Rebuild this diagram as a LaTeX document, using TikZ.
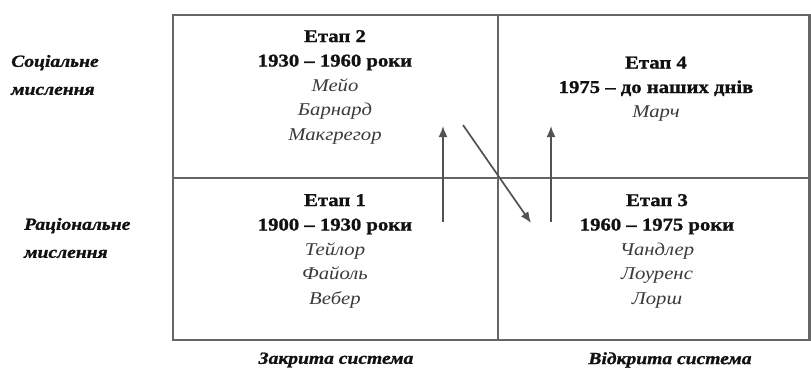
\documentclass[tikz,border=0pt]{standalone}
\usepackage{fontspec}
\setmainfont{Liberation Serif}[FakeStretch=1.15, BoldFeatures={FakeBold=1.2}, BoldItalicFeatures={FakeBold=1.2}]
\usetikzlibrary{arrows.meta}
\definecolor{linegray}{HTML}{666666}
\definecolor{namegray}{HTML}{3A3A3A}
\definecolor{textdark}{HTML}{111111}
\tikzset{
  grid/.style={draw=linegray, line width=2.4pt},
  arr/.style={draw=linegray!80!black, line width=1.7pt, -{Latex[length=11pt,width=9pt]}},
  stage/.style={align=center, font=\fontsize{18}{24.5}\selectfont, text=textdark, inner sep=0pt},
  side/.style={align=left, font=\fontsize{17}{28}\selectfont\bfseries\itshape, text=textdark, inner sep=0pt, anchor=west},
  axis/.style={font=\fontsize{17}{20}\selectfont\bfseries\itshape, text=textdark, inner sep=0pt}
}
\newcommand{\nm}[1]{{\itshape\color{namegray}#1}}
\begin{document}
\begin{tikzpicture}[x=1pt,y=-1pt]
\useasboundingbox (0,0) rectangle (811,369);
% grid
\draw[grid] (173,15) rectangle (809.5,340);
\draw[grid] (173,178) -- (809.5,178);
\draw[grid] (498,15) -- (498,340);
% stages
\node[stage] (s2) at (335,87) {\textbf{Етап 2}\\ \textbf{1930 – 1960 роки}\\ \nm{Мейо}\\ \nm{Барнард}\\ \nm{Макгрегор}};
\node[stage] (s4) at (656,89) {\textbf{Етап 4}\\ \textbf{1975 – до наших днів}\\ \nm{Марч}};
\node[stage] (s1) at (335,251) {\textbf{Етап 1}\\ \textbf{1900 – 1930 роки}\\ \nm{Тейлор}\\ \nm{Файоль}\\ \nm{Вебер}};
\node[stage] (s3) at (657,251) {\textbf{Етап 3}\\ \textbf{1960 – 1975 роки}\\ \nm{Чандлер}\\ \nm{Лоуренс}\\ \nm{Лорш}};
% side labels
\node[side] (soc) at (11,75) {Соціальне\\мислення};
\node[side] (rat) at (24,238) {Раціональне\\мислення};
% bottom labels
\node[axis] (closed) at (336,360) {Закрита система};
\node[axis] (open) at (670,360) {Відкрита система};
% arrows
\coordinate (a1s) at (443,222); \coordinate (a1e) at (443,126);
\coordinate (a2s) at (463,125); \coordinate (a2e) at (531,223);
\coordinate (a3s) at (551,222); \coordinate (a3e) at (551,126);
\draw[arr] (a1s) -- (a1e);
\draw[arr] (a2s) -- (a2e);
\draw[arr] (a3s) -- (a3e);
\end{tikzpicture}
\end{document}
